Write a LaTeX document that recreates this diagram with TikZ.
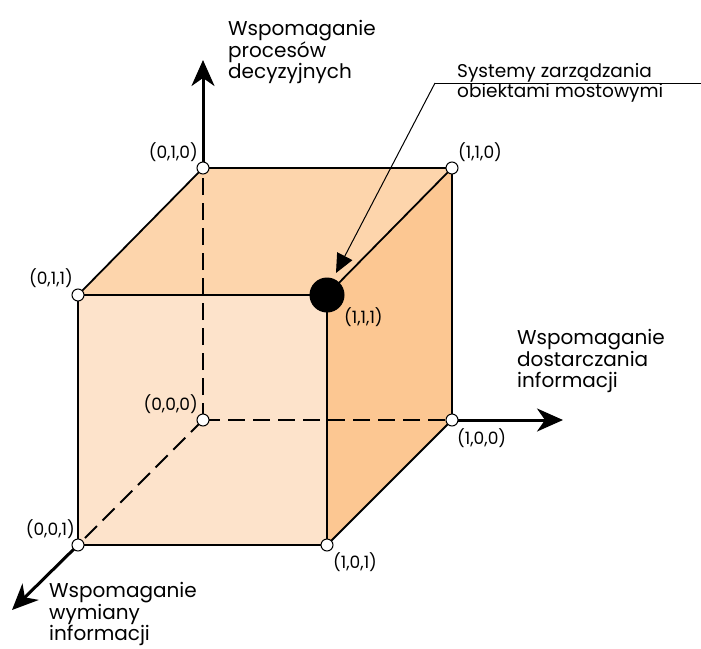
\documentclass[tikz,border=0pt]{standalone}
\usepackage{fontspec}
\setmainfont{Poppins}
\usetikzlibrary{arrows.meta}
\definecolor{frontface}{RGB}{253,227,203}
\definecolor{topface}{RGB}{253,213,172}
\definecolor{sideface}{RGB}{252,199,146}
\tikzset{
  edge/.style={line width=1.8pt},
  hidden/.style={line width=1.8pt, dash pattern=on 17pt off 8pt},
  axis/.style={line width=3pt, -{Stealth[length=26pt,width=23pt,inset=8pt]}},
  vertex/.style={circle, draw, fill=white, line width=1pt, minimum size=12pt, inner sep=0pt},
  bigdot/.style={circle, fill=black, minimum size=35pt, inner sep=0pt},
  lbl/.style={font=\fontsize{17}{20}\selectfont, inner sep=0pt},
  axislbl/.style={font=\fontsize{20}{21.5}\selectfont, align=left, inner sep=0pt},
  calloutlbl/.style={font=\fontsize{18.5}{20.5}\selectfont, align=left, inner sep=0pt},
}
\begin{document}
\begin{tikzpicture}[x=1pt,y=-1pt]
\useasboundingbox (0,0) rectangle (701,648);
% vertices
\coordinate (p010) at (203,168);
\coordinate (p110) at (452,168);
\coordinate (p011) at (78,295);
\coordinate (p111) at (327,295);
\coordinate (p000) at (203,420);
\coordinate (p100) at (452,420);
\coordinate (p001) at (78,545);
\coordinate (p101) at (327,545);
% axis tips
\coordinate (tipy) at (203,60);
\coordinate (tipx) at (563,420);
\coordinate (tipz) at (12,610);
% faces
\fill[topface] (p010) -- (p110) -- (p111) -- (p011) -- cycle;
\fill[frontface] (p011) -- (p111) -- (p101) -- (p001) -- cycle;
\fill[sideface] (p110) -- (p100) -- (p101) -- (p111) -- cycle;
% hidden edges
\draw[hidden] (p000) -- (p010);
\draw[hidden] (p000) -- (p100);
\draw[hidden] (p000) -- (p001);
% visible edges
\draw[edge] (p010) -- (p110) -- (p100);
\draw[edge] (p010) -- (p011) -- (p111) -- (p110);
\draw[edge] (p011) -- (p001) -- (p101) -- (p100);
\draw[edge] (p111) -- (p101);
% axes
\draw[axis] (p010) -- (tipy);
\draw[axis] (p100) -- (tipx);
\draw[axis] (p001) -- (tipz);
% vertex markers
\node[vertex] (v010) at (p010) {};
\node[vertex] (v110) at (p110) {};
\node[vertex] (v011) at (p011) {};
\node[vertex] (v000) at (p000) {};
\node[vertex] (v100) at (p100) {};
\node[vertex] (v001) at (p001) {};
\node[vertex] (v101) at (p101) {};
\node[bigdot] (v111) at (p111) {};
% vertex labels
\node[lbl, anchor=east] (l010) at (198,152) {(0,1,0)};
\node[lbl, anchor=west] (l110) at (458,152) {(1,1,0)};
\node[lbl, anchor=east] (l011) at (73,278) {(0,1,1)};
\node[lbl, anchor=west] (l111) at (344,317) {(1,1,1)};
\node[lbl, anchor=east] (l000) at (198,404) {(0,0,0)};
\node[lbl, anchor=west] (l100) at (457,438) {(1,0,0)};
\node[lbl, anchor=east] (l001) at (75,529) {(0,0,1)};
\node[lbl, anchor=west] (l101) at (333,562) {(1,0,1)};
% axis labels
\node[axislbl, anchor=west] (ay) at (228,52) {Wspomaganie\\procesów\\decyzyjnych};
\node[axislbl, anchor=west] (ax) at (517,361) {Wspomaganie\\dostarczania\\informacji};
\node[axislbl, anchor=west] (az) at (49,614) {Wspomaganie\\wymiany\\informacji};
% callout
\node[calloutlbl, anchor=west] (callout) at (457,83) {Systemy zarządzania\\obiektami mostowymi};
\coordinate (knee) at (435,83);
\coordinate (lineend) at (701,83);
\coordinate (callouttip) at (336,273);
\draw[line width=1pt] (lineend) -- (knee);
\draw[line width=1pt, -{Triangle[length=19pt,width=17pt]}] (knee) -- (callouttip);
\end{tikzpicture}
\end{document}
